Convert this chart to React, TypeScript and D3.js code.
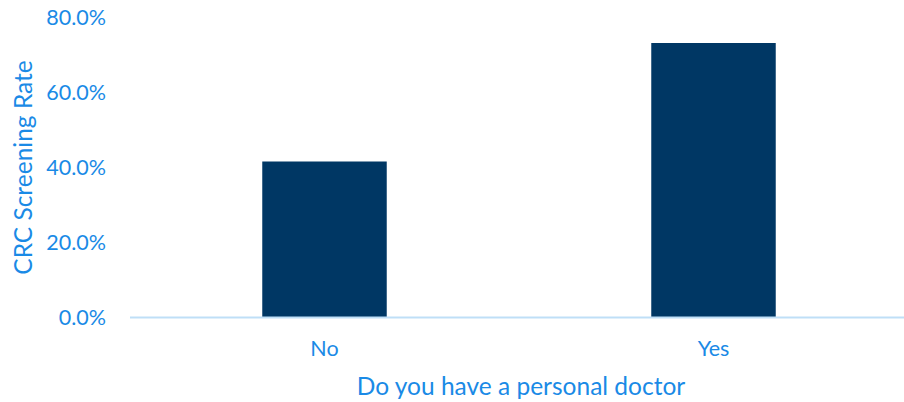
import React from "react";
import * as d3 from "d3";

const categories = ["No", "Yes"];
const values = [0.416, 0.732];
const yTicks = [0, 0.2, 0.4, 0.6, 0.8];
const xTitle = "Do you have a personal doctor";
const yTitle = "CRC Screening Rate";

const W = 904;
const H = 402;
const margin = { left: 130, right: -4, top: 17.5, bottom: 84.5 };
const TEXT = "#1a8ae6";
const BAR = "#003764";
const FONT = "Lato, 'Open Sans', sans-serif";

export default function App() {
  const x = d3
    .scaleBand<string>()
    .domain(categories)
    .range([margin.left, W - margin.right])
    .paddingInner(0.68)
    .paddingOuter(0.34);
  const y = d3
    .scaleLinear()
    .domain([0, 0.8])
    .range([H - margin.bottom, margin.top]);
  const fmt = d3.format(".1%");
  const y0 = y(0);
  return (
    <svg
      width={W}
      height={H}
      style={{ position: "absolute", left: 0, top: 0, fontFamily: FONT }}
    >
      {categories.map((c, i) => (
        <rect
          key={c}
          x={x(c)}
          y={y(values[i])}
          width={x.bandwidth()}
          height={y0 - y(values[i])}
          fill={BAR}
        />
      ))}
      <line
        x1={margin.left}
        x2={W}
        y1={y0}
        y2={y0}
        stroke="#bfdff7"
        strokeWidth={2}
      />
      {yTicks.map((t) => (
        <text
          key={t}
          x={106}
          y={y(t) + 7.8}
          textAnchor="end"
          fontSize={21.5}
          fill={TEXT}
        >
          {fmt(t)}
        </text>
      ))}
      {categories.map((c) => (
        <text
          key={c}
          x={(x(c) as number) + x.bandwidth() / 2}
          y={356}
          textAnchor="middle"
          fontSize={21.5}
          fill={TEXT}
        >
          {c}
        </text>
      ))}
      <text
        x={521}
        y={395}
        textAnchor="middle"
        fontSize={24.5}
        fill={TEXT}
      >
        {xTitle}
      </text>
      <text
        transform={`translate(32,${167.5}) rotate(-90)`}
        textAnchor="middle"
        fontSize={24.5}
        fill={TEXT}
      >
        {yTitle}
      </text>
    </svg>
  );
}
